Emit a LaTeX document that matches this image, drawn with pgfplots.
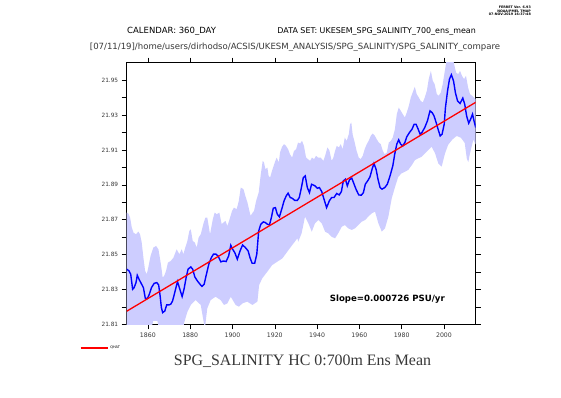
\documentclass[border=0pt]{standalone}
\usepackage{fontspec}
\setmainfont{DejaVu Sans}
\newfontfamily\titlefont{Liberation Serif}
\usepackage{pgfplots}
\pgfplotsset{compat=1.18}
\definecolor{bandblue}{RGB}{205,205,255}
\definecolor{txtgray}{RGB}{55,55,55}
\begin{document}
\begin{tikzpicture}[x=1pt,y=1pt]
\path[use as bounding box] (0,0) rectangle (561,397);
\begin{axis}[at={(126.7pt,72.7pt)}, anchor=south west, scale only axis,
  width=349pt, height=261.6pt,
  xmin=1850, xmax=2015, ymin=21.81, ymax=21.96,
  xtick={1860,1880,1900,1920,1940,1960,1980,2000},
  ytick={21.81,21.83,21.85,21.87,21.89,21.91,21.93,21.95},
  minor ytick={21.82,21.84,21.86,21.88,21.90,21.92,21.94},
  scaled y ticks=false,
  tick align=outside, major tick length=5pt, minor tick length=5pt,
  tick style={black, line width=0.5pt},
  axis line style={line width=0.9pt, black},
  /pgf/number format/assume math mode=true,
  xticklabel style={/pgf/number format/1000 sep=, font=\fontsize{6.2}{7}\selectfont, text=txtgray},
  yticklabel style={/pgf/number format/.cd, fixed, fixed zerofill, precision=2, /tikz/.cd, font=\fontsize{5.8}{7}\selectfont, text=txtgray},
  legend style={at={(-0.134,-0.0906)}, anchor=west, draw=none, fill=none, font=\fontsize{3.5}{4}\selectfont, inner sep=0pt, row sep=0pt},
  legend cell align=left,
]
\addplot[fill=bandblue, draw=none, forget plot] coordinates {
(1850,21.8741) (1850.8,21.8735) (1851.6,21.8712) (1852.4,21.8655) (1853.2,21.8626) (1854.4,21.8616) (1855.5,21.8632) (1856.3,21.8616) (1857.1,21.8569) (1857.9,21.8482) (1858.7,21.8406) (1859.5,21.8387) (1860.2,21.8425) (1861.3,21.8492) (1862.6,21.8540) (1863.9,21.8549) (1865,21.8530) (1865.8,21.8473) (1866.5,21.8416) (1867,21.8368) (1867.7,21.8377) (1868.6,21.8406) (1869.5,21.8454) (1870.8,21.8463) (1872.1,21.8482) (1873.6,21.8530) (1874.9,21.8502) (1876,21.8530) (1876.8,21.8502) (1877.7,21.8540) (1878.7,21.8578) (1879.6,21.8635) (1880.3,21.8645) (1881.2,21.8578) (1882.2,21.8569) (1883.1,21.8540) (1884,21.8597) (1885,21.8616) (1886.2,21.8674) (1887.2,21.8712) (1888.1,21.8712) (1889.4,21.8616) (1890.7,21.8702) (1891.6,21.8741) (1892.6,21.8731) (1893.8,21.8741) (1894.9,21.8674) (1895.7,21.8683) (1896.7,21.8693) (1897.6,21.8664) (1898.5,21.8697) (1899.8,21.8750) (1900.7,21.8769) (1902,21.8760) (1903,21.8808) (1903.9,21.8884) (1905.2,21.8875) (1906.1,21.8836) (1907.1,21.8798) (1908,21.8750) (1908.6,21.8722) (1909.6,21.8741) (1910.2,21.8750) (1911.2,21.8808) (1912.4,21.8855) (1913.4,21.8961) (1914.3,21.9037) (1914.9,21.9028) (1915.6,21.8989) (1916.5,21.8999) (1917.1,21.8951) (1917.8,21.8941) (1918.7,21.8980) (1920,21.9028) (1920.9,21.9056) (1921.9,21.9028) (1922.5,21.9085) (1923.4,21.9117) (1924.4,21.9133) (1925.3,21.9123) (1926.3,21.9104) (1927.2,21.9075) (1928.2,21.9056) (1929.1,21.9094) (1930.1,21.9104) (1931,21.9142) (1932,21.9137) (1932.9,21.9152) (1933.8,21.9123) (1934.8,21.9056) (1935.7,21.9047) (1936.7,21.9037) (1937.6,21.9056) (1938.6,21.9047) (1939.5,21.9066) (1940.5,21.9056) (1941.7,21.9056) (1943,21.9037) (1943.8,21.9066) (1944.9,21.9114) (1945.8,21.9098) (1946.9,21.9037) (1947.7,21.9056) (1948.5,21.9094) (1949.3,21.9123) (1950.3,21.9114) (1951.2,21.9133) (1952.1,21.9104) (1953.1,21.9171) (1954,21.9152) (1955,21.9190) (1955.6,21.9247) (1956.2,21.9257) (1956.8,21.9190) (1957.8,21.9142) (1958.7,21.9094) (1959.7,21.9056) (1960.6,21.9047) (1961.6,21.9066) (1962.5,21.9104) (1963.5,21.9133) (1964.4,21.9152) (1965.4,21.9181) (1966.3,21.9194) (1967.3,21.9181) (1968.2,21.9161) (1969.2,21.9142) (1970.1,21.9133) (1971.1,21.9094) (1972,21.9075) (1973,21.9085) (1973.9,21.9142) (1974.9,21.9152) (1975.8,21.9171) (1976.8,21.9219) (1977.7,21.9305) (1978.6,21.9343) (1979.6,21.9324) (1980.5,21.9305) (1981.5,21.9286) (1982.4,21.9314) (1983.4,21.9353) (1984.3,21.9400) (1985.2,21.9429) (1986.2,21.9462) (1987.1,21.9420) (1988.1,21.9400) (1989,21.9381) (1990,21.9372) (1990.9,21.9400) (1991.9,21.9439) (1992.8,21.9506) (1993.8,21.9553) (1994.7,21.9496) (1995.6,21.9477) (1996.6,21.9420) (1997.5,21.9410) (1998.5,21.9429) (1999.4,21.9477) (2000.4,21.9553) (2001.3,21.9620) (2002.6,21.9650) (2003.8,21.9650) (2004.8,21.9591) (2005.7,21.9544) (2006.7,21.9534) (2007.6,21.9553) (2008.5,21.9525) (2009.5,21.9506) (2010.4,21.9525) (2011.4,21.9458) (2012.3,21.9420) (2013.3,21.9410) (2014.2,21.9400) (2015,21.9391)
(2015,21.913) (2013.9,21.916) (2012.3,21.908) (2011.5,21.903) (2010.8,21.905) (2009.8,21.914) (2008,21.917) (2006,21.918) (2004,21.916) (2002,21.913) (2000.5,21.908) (1998.9,21.9004) (1997.3,21.9023) (1995.8,21.9080) (1994.2,21.9118) (1992.6,21.9099) (1991,21.9080) (1989.5,21.9061) (1987.9,21.9052) (1986.3,21.9042) (1984.8,21.9013) (1983.1,21.8985) (1981.6,21.8975) (1980,21.8966) (1978.4,21.8946) (1976.9,21.8889) (1975.3,21.8822) (1973.7,21.8717) (1972.1,21.8650) (1970.6,21.8631) (1969,21.8679) (1967.4,21.8746) (1965.8,21.8736) (1964.2,21.8717) (1962.7,21.8698) (1961.1,21.8688) (1959.5,21.8669) (1957.9,21.8650) (1956.4,21.8641) (1954.8,21.8650) (1953.2,21.8669) (1951.7,21.8660) (1950,21.8622) (1948.5,21.8593) (1946.9,21.8602) (1945.3,21.8622) (1943.8,21.8631) (1942.2,21.8679) (1940.6,21.8698) (1939,21.8679) (1937.5,21.8631) (1935.9,21.8679) (1934.3,21.8717) (1932.7,21.8622) (1931.1,21.8574) (1930.7,21.8593) (1928.3,21.8555) (1925.9,21.8516) (1923.6,21.8478) (1921.2,21.8459) (1918.8,21.8440) (1916.5,21.8402) (1914.1,21.8364) (1912.6,21.8325) (1911.8,21.8230) (1909.4,21.8211) (1907,21.8230) (1904.7,21.8220) (1903.1,21.8201) (1901.5,21.8211) (1899.2,21.8258) (1897.6,21.8220) (1896,21.8211) (1894.4,21.8239) (1892,21.8258) (1889.7,21.8239) (1888.1,21.8192) (1887,21.808) (1886.5,21.8106) (1885,21.8211) (1882.6,21.8239) (1880.3,21.8211) (1878.7,21.8172) (1877.1,21.8106) (1876.5,21.806) (1865.5,21.806) (1864.5,21.812) (1862.5,21.812) (1861.5,21.806) (1855,21.805) (1850,21.805)
};
\addplot[blue, line width=1.4pt, forget plot] coordinates {
(1850,21.8416) (1851.1,21.8406) (1851.9,21.8387) (1852.8,21.8301) (1853.5,21.8310) (1854.4,21.8339) (1855,21.8381) (1856,21.8354) (1857.1,21.8329) (1857.9,21.8310) (1858.8,21.8249) (1859.8,21.8249) (1860.7,21.8272) (1861.7,21.8310) (1863,21.8335) (1864.2,21.8339) (1865.1,21.8326) (1865.8,21.8263) (1866.4,21.8196) (1867,21.8167) (1868,21.8176) (1868.9,21.8211) (1869.9,21.8211) (1870.8,21.8215) (1871.7,21.8234) (1872.7,21.8282) (1874,21.8345) (1874.9,21.8310) (1876.2,21.8259) (1877.1,21.8301) (1878.1,21.8368) (1879,21.8416) (1880.3,21.8429) (1881.2,21.8416) (1882.2,21.8372) (1883.4,21.8349) (1884.7,21.8329) (1885.6,21.8318) (1886.6,21.8329) (1887.5,21.8377) (1888.8,21.8444) (1890,21.8482) (1891,21.8502) (1892.2,21.8502) (1893.2,21.8492) (1894.5,21.8458) (1895.7,21.8463) (1897,21.8460) (1898.2,21.8492) (1899.2,21.8553) (1900.1,21.8530) (1901.1,21.8511) (1902.3,21.8473) (1903.6,21.8521) (1904.8,21.8555) (1906.1,21.8540) (1907.4,21.8521) (1908.3,21.8482) (1909.3,21.8450) (1910.5,21.8450) (1911.5,21.8502) (1912.4,21.8635) (1913.4,21.8674) (1914.6,21.8687) (1915.6,21.8683) (1916.5,21.8674) (1917.5,21.8670) (1918.4,21.8712) (1919.3,21.8766) (1920.3,21.8769) (1921.2,21.8731) (1922.2,21.8716) (1923.5,21.8769) (1924.4,21.8808) (1925.4,21.8836) (1926.3,21.8852) (1927.3,21.8827) (1928.2,21.8823) (1929.4,21.8811) (1930.7,21.8811) (1931.6,21.8827) (1932.6,21.8884) (1933.5,21.8941) (1934.4,21.8951) (1935.4,21.8884) (1936.4,21.8855) (1937.4,21.8903) (1939,21.8894) (1940.1,21.8880) (1941.1,21.8884) (1942.2,21.8861) (1943.3,21.8817) (1944.5,21.8769) (1945.8,21.8808) (1946.9,21.8827) (1948,21.8827) (1949.3,21.8850) (1950.5,21.8842) (1951.5,21.8861) (1952.4,21.8922) (1953.4,21.8932) (1954.3,21.8894) (1955.3,21.8928) (1956.4,21.8938) (1957.2,21.8913) (1958.4,21.8875) (1959.7,21.8842) (1960.9,21.8840) (1961.9,21.8855) (1962.8,21.8903) (1964.1,21.8926) (1965,21.8945) (1966,21.8989) (1966.9,21.9022) (1967.9,21.8989) (1968.8,21.8932) (1969.8,21.8884) (1970.7,21.8875) (1972,21.8884) (1973.2,21.8903) (1974.5,21.8951) (1975.8,21.9008) (1976.7,21.9075) (1977.7,21.9133) (1978.6,21.9158) (1979.5,21.9133) (1980.5,21.9123) (1981.5,21.9142) (1982.4,21.9175) (1983.7,21.9200) (1984.9,21.9219) (1985.9,21.9247) (1986.8,21.9247) (1987.8,21.9219) (1988.7,21.9190) (1989.6,21.9200) (1990.9,21.9228) (1992.2,21.9267) (1993.4,21.9324) (1994.4,21.9314) (1995.3,21.9295) (1996.3,21.9257) (1997.2,21.9219) (1998.2,21.9180) (1999.1,21.9190) (2000.1,21.9247) (2000.7,21.9343) (2001.7,21.9439) (2002.6,21.9506) (2003.5,21.9531) (2004.5,21.9496) (2005.4,21.9429) (2006.4,21.9381) (2007.6,21.9366) (2008.9,21.9397) (2009.8,21.9362) (2010.7,21.9295) (2011.7,21.9253) (2012.6,21.9276) (2013.5,21.9305) (2014.2,21.9267) (2015,21.9228)
};
\addplot[red, line width=1.3pt, legend image code/.code={\draw[red, line width=1.2pt] (0pt,0pt) -- (27pt,0pt);}] coordinates {(1850,21.8175) (2015,21.9373)};
\addlegendentry{QHAT}
\node[anchor=west, font=\bfseries\fontsize{8.6}{10}\selectfont] at (axis description cs:0.572,0.0975) {Slope=0.000726 PSU/yr};
\end{axis}
\node[anchor=east, align=right, font=\bfseries\fontsize{3.3}{3.8}\selectfont, inner sep=0pt] at (531,386) {FERRET Ver. 6.93\\NOAA/PMEL TMAP\\07-NOV-2019 16:37:48};
\node[anchor=west, font=\fontsize{8.5}{9}\selectfont, inner sep=0pt] at (127,366) {CALENDAR: 360\_DAY};
\node[anchor=east, font=\fontsize{7.95}{9}\selectfont, inner sep=0pt] at (476,366) {DATA SET: UKESEM\_SPG\_SALINITY\_700\_ens\_mean};
\node[font=\fontsize{8.55}{9}\selectfont, text=txtgray, inner sep=0pt] at (295,350) {[07/11/19]/home/users/dirhodso/ACSIS/UKESM\_ANALYSIS/SPG\_SALINITY/SPG\_SALINITY\_compare};
\node[font=\titlefont\fontsize{15.9}{17}\selectfont, text=txtgray, inner sep=0pt] at (302.5,36) {SPG\_SALINITY HC 0:700m Ens Mean};
\end{tikzpicture}
\end{document}
